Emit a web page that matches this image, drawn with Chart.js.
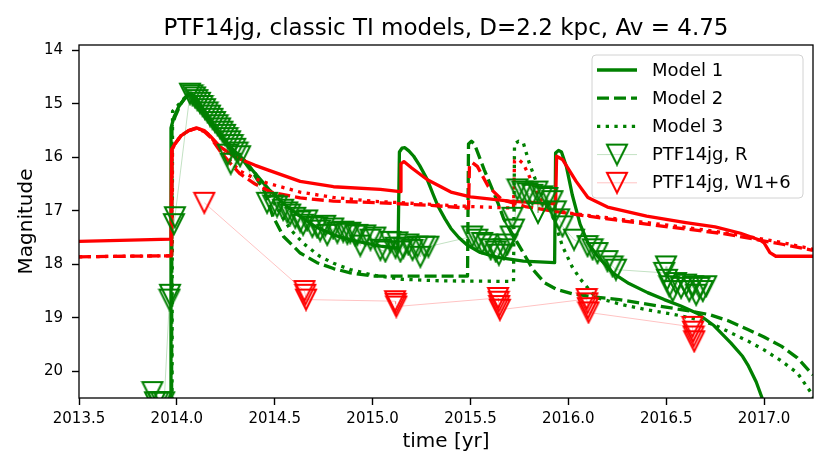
<!DOCTYPE html>
<html>
<head>
<meta charset="utf-8">
<title>PTF14jg classic TI models</title>
<script src="https://cdn.jsdelivr.net/npm/chart.js@4.4.1/dist/chart.umd.min.js"></script>
<style>
  html, body { margin: 0; padding: 0; background: #fff; }
</style>
</head>
<body>
<canvas id="myChart" width="830" height="475"></canvas>
<script>
// axis ticks
const xTicks = [2013.5, 2014.0, 2014.5, 2015.0, 2015.5, 2016.0, 2016.5, 2017.0];
const yTicks = [14, 15, 16, 17, 18, 19, 20];

const chartTitle = 'PTF14jg, classic TI models, D=2.2 kpc, Av = 4.75';
const legendLabels = ['Model 1', 'Model 2', 'Model 3', 'PTF14jg, R', 'PTF14jg, W1+6'];

// model 1, R band (green solid)
const m1Time = [2013.965, 2013.97, 2013.985, 2014.01, 2014.04, 2014.067, 2014.1, 2014.135, 2014.2, 2014.27, 2014.34,
  2014.4, 2014.47, 2014.54, 2014.62, 2014.71, 2014.8, 2014.88, 2014.96, 2015.04, 2015.13, 2015.137, 2015.15, 2015.165,
  2015.185, 2015.21, 2015.24, 2015.28, 2015.31, 2015.335, 2015.37, 2015.4, 2015.44, 2015.48, 2015.55, 2015.64, 2015.77,
  2015.93, 2015.935, 2015.95, 2015.965, 2015.99, 2016.02, 2016.06, 2016.1, 2016.15, 2016.23, 2016.31, 2016.405, 2016.49,
  2016.575, 2016.66, 2016.745, 2016.83, 2016.89, 2016.92, 2016.96, 2016.99, 2017.0];
const m1Mag = [20.7, 15.45, 15.25, 15.05, 14.9, 14.8, 14.9, 15.1, 15.48, 15.8, 16.04,
  16.3, 16.6, 16.85, 17.08, 17.3, 17.45, 17.54, 17.6, 17.66, 17.7, 15.9, 15.83, 15.82,
  15.88, 15.98, 16.15, 16.42, 16.7, 16.92, 17.15, 17.33, 17.5, 17.63, 17.78, 17.87, 17.94,
  17.97, 15.92, 15.87, 15.9, 16.17, 16.7, 17.25, 17.6, 17.85, 18.17, 18.36, 18.53, 18.66,
  18.78, 18.92, 19.15, 19.47, 19.72, 19.9, 20.2, 20.5, 20.7];

// model 2, R band (green dashed)
const m2Time = [2013.973, 2013.975, 2013.99, 2014.02, 2014.05, 2014.07, 2014.1, 2014.135, 2014.2, 2014.27, 2014.34,
  2014.4, 2014.45, 2014.49, 2014.545, 2014.63, 2014.716, 2014.8, 2014.886, 2015.0, 2015.485, 2015.49, 2015.505, 2015.52,
  2015.57, 2015.64, 2015.67, 2015.74, 2015.82, 2015.88, 2015.94, 2016.02, 2016.11, 2016.26, 2016.46, 2016.6, 2016.72,
  2016.82, 2016.917, 2017.0, 2017.088, 2017.17, 2017.25];
const m2Mag = [20.7, 15.42, 15.25, 15.0, 14.85, 14.8, 14.92, 15.1, 15.48, 15.8, 16.06,
  16.35, 16.65, 17.1, 17.48, 17.79, 17.97, 18.08, 18.16, 18.22, 18.22, 15.75, 15.7, 15.75,
  16.23, 16.85, 17.15, 17.6, 18.1, 18.35, 18.47, 18.55, 18.6, 18.66, 18.78, 18.86, 18.94,
  19.06, 19.22, 19.36, 19.53, 19.75, 20.07];

// model 3, R band (green dotted)
const m3Time = [2013.975, 2013.978, 2014.0, 2014.03, 2014.06, 2014.075, 2014.1, 2014.135, 2014.2, 2014.27, 2014.34,
  2014.4, 2014.45, 2014.52, 2014.58, 2014.65, 2014.73, 2014.8, 2014.886, 2015.0, 2015.15, 2015.35, 2015.72, 2015.725,
  2015.745, 2015.77, 2015.8, 2015.85, 2015.92, 2015.97, 2016.02, 2016.06, 2016.14, 2016.27, 2016.4, 2016.53, 2016.66,
  2016.75, 2016.83, 2016.92, 2017.0, 2017.085, 2017.17, 2017.24, 2017.26];
const m3Mag = [20.7, 15.14, 15.05, 14.92, 14.82, 14.8, 14.9, 15.1, 15.48, 15.8, 16.04,
  16.3, 16.55, 17.0, 17.35, 17.62, 17.85, 17.98, 18.1, 18.2, 18.28, 18.31, 18.32, 15.75,
  15.7, 15.73, 16.1, 16.6, 17.1, 17.66, 18.05, 18.27, 18.62, 18.75, 18.85, 18.93, 19.03,
  19.14, 19.28, 19.44, 19.6, 19.8, 20.03, 20.4, 20.55];

// model 1, W1+6 (red solid)
const w1Time = [2013.5, 2013.97, 2013.973, 2013.99, 2014.02, 2014.06, 2014.1, 2014.14, 2014.17, 2014.22, 2014.3,
  2014.4, 2014.46, 2014.63, 2014.8, 2015.04, 2015.14, 2015.145, 2015.16, 2015.2, 2015.28, 2015.4, 2015.5, 2015.7,
  2015.935, 2015.94, 2015.97, 2016.04, 2016.1, 2016.2, 2016.4, 2016.6, 2016.75, 2016.88, 2016.98, 2017.0, 2017.03,
  2017.06, 2017.25];
const w1Mag = [17.57, 17.53, 15.85, 15.75, 15.6, 15.5, 15.45, 15.5, 15.6, 15.8, 16.0,
  16.15, 16.23, 16.45, 16.55, 16.6, 16.64, 16.12, 16.08, 16.2, 16.42, 16.65, 16.74, 16.82,
  16.87, 15.98, 16.04, 16.45, 16.75, 16.93, 17.1, 17.22, 17.3, 17.42, 17.55, 17.6, 17.78,
  17.85, 17.85];

// model 2, W1+6 (red dashed)
const w2Time = [2013.5, 2013.973, 2013.976, 2013.99, 2014.02, 2014.06, 2014.1, 2014.14, 2014.17, 2014.22, 2014.27,
  2014.32, 2014.4, 2014.48, 2014.63, 2014.8, 2015.04, 2015.3, 2015.49, 2015.495, 2015.51, 2015.535, 2015.59, 2015.66,
  2015.78, 2016.0, 2016.2, 2016.4, 2016.6, 2016.8, 2016.95, 2017.1, 2017.25];
const w2Mag = [17.86, 17.84, 15.85, 15.75, 15.6, 15.5, 15.46, 15.52, 15.62, 15.88, 16.1,
  16.3, 16.5, 16.65, 16.76, 16.82, 16.85, 16.9, 16.95, 16.15, 16.1, 16.17, 16.54, 16.79,
  16.92, 17.05, 17.15, 17.25, 17.34, 17.43, 17.53, 17.63, 17.74];

// model 3, W1+6 (red dotted)
const w3Time = [2013.5, 2013.974, 2013.977, 2013.99, 2014.02, 2014.06, 2014.1, 2014.14, 2014.17, 2014.22, 2014.27,
  2014.32, 2014.4, 2014.46, 2014.63, 2014.8, 2015.0, 2015.3, 2015.5, 2015.72, 2015.725, 2015.745, 2015.77, 2015.8,
  2015.85, 2015.9, 2016.0, 2016.2, 2016.4, 2016.6, 2016.8, 2016.95, 2017.1, 2017.25];
const w3Mag = [17.86, 17.84, 15.85, 15.75, 15.6, 15.5, 15.46, 15.5, 15.6, 15.85, 16.05,
  16.25, 16.4, 16.48, 16.65, 16.75, 16.82, 16.88, 16.92, 16.95, 16.06, 16.04, 16.12, 16.35,
  16.75, 16.95, 17.04, 17.13, 17.22, 17.31, 17.41, 17.5, 17.6, 17.72];

// PTF14jg, R (observed)
const rTime = [2013.875, 2013.888, 2013.905, 2013.92, 2013.935, 2013.962, 2013.965, 2013.985, 2013.99,
  2014.067, 2014.08, 2014.093, 2014.105, 2014.118, 2014.131, 2014.144, 2014.157, 2014.169, 2014.182, 2014.195,
  2014.208, 2014.221, 2014.233, 2014.246, 2014.259, 2014.26, 2014.272, 2014.275, 2014.285, 2014.298, 2014.31, 2014.323,
  2014.461, 2014.492, 2014.512, 2014.543, 2014.564, 2014.579, 2014.605, 2014.63, 2014.645, 2014.666, 2014.692,
  2014.717, 2014.732, 2014.758, 2014.768, 2014.799, 2014.82, 2014.85, 2014.871, 2014.886, 2014.912, 2014.922,
  2014.937, 2014.963, 2014.989, 2015.014, 2015.04, 2015.065, 2015.091, 2015.117, 2015.127, 2015.142, 2015.157,
  2015.183, 2015.204, 2015.229, 2015.244, 2015.265, 2015.285,
  2015.509, 2015.535, 2015.56, 2015.586, 2015.603, 2015.629, 2015.645, 2015.671, 2015.688, 2015.705, 2015.714,
  2015.722, 2015.74, 2015.765, 2015.791, 2015.816, 2015.842, 2015.845, 2015.868, 2015.893, 2015.919, 2015.936,
  2015.953, 2015.97, 2016.029, 2016.098, 2016.124, 2016.149, 2016.2, 2016.226, 2016.243,
  2016.49, 2016.499, 2016.504, 2016.516, 2016.533, 2016.55, 2016.576, 2016.601, 2016.618, 2016.636, 2016.653,
  2016.67, 2016.687, 2016.704];
const rMag = [20.39, 20.58, 20.58, 20.58, 20.58, 18.66, 18.57, 17.25, 17.12,
  14.81, 14.84, 14.88, 14.93, 14.98, 15.04, 15.1, 15.16, 15.22, 15.28, 15.34,
  15.4, 15.46, 15.52, 15.58, 15.64, 15.95, 15.7, 16.12, 15.77, 15.84, 15.91, 15.98,
  16.85, 16.9, 16.92, 16.98, 17.03, 17.07, 17.13, 17.2, 17.26, 17.18, 17.3,
  17.31, 17.37, 17.28, 17.45, 17.33, 17.41, 17.39, 17.43, 17.41, 17.46, 17.45,
  17.65, 17.46, 17.54, 17.5, 17.73, 17.76, 17.58, 17.69, 17.59, 17.76, 17.69,
  17.63, 17.73, 17.67, 17.86, 17.67, 17.67,
  17.48, 17.54, 17.6, 17.63, 17.72, 17.76, 17.82, 17.72, 17.63, 17.48, 17.13,
  17.35, 16.6, 16.64, 16.67, 16.7, 16.64, 17.04, 16.73, 16.76, 16.82, 17.01,
  17.16, 17.29, 17.54, 17.66, 17.72, 17.79, 17.94, 18.04, 18.1,
  18.16, 18.04, 18.29, 18.41, 18.5, 18.35, 18.44, 18.38, 18.5, 18.41, 18.57,
  18.44, 18.5, 18.41];

// PTF14jg, W1+6 (observed)
const wTime = [2014.14, 2014.652, 2014.656, 2014.66, 2015.115, 2015.118, 2015.121, 2015.641, 2015.644, 2015.647,
  2015.65, 2016.094, 2016.097, 2016.1, 2016.103, 2016.634, 2016.637, 2016.64, 2016.643];
const wMag = [16.85, 18.5, 18.57, 18.66, 18.69, 18.74, 18.79, 18.63, 18.7, 18.78,
  18.85, 18.65, 18.73, 18.82, 18.9, 19.17, 19.26, 19.35, 19.44];

const FONT = 'DejaVu Sans';
const GREEN = '#008000';
const RED = '#ff0000';

function pts(ts, ms) {
  return ts.map((t, i) => ({x: t, y: ms[i]}));
}

// open down-pointing triangle, like matplotlib 'v'
function triMarker(color) {
  const c = document.createElement('canvas');
  c.width = 24;
  c.height = 24;
  const g = c.getContext('2d');
  g.strokeStyle = color;
  g.lineWidth = 2;
  g.lineJoin = 'miter';
  g.beginPath();
  g.moveTo(2, 2);
  g.lineTo(22, 2);
  g.lineTo(12, 22);
  g.closePath();
  g.stroke();
  return c;
}
const triGreen = triMarker(GREEN);
const triRed = triMarker(RED);

const DASHED = [12, 5];
const DOTTED = [3.3, 5.4];

function modelSet(ts, ms, color, dash) {
  return {
    data: pts(ts, ms),
    showLine: true,
    borderColor: color,
    backgroundColor: color,
    borderWidth: 3.3,
    borderDash: dash,
    borderCapStyle: 'butt',
    borderJoinStyle: 'round',
    pointRadius: 0,
    tension: 0,
    fill: false,
    clip: 0
  };
}

function obsSet(ts, ms, lineColor, marker) {
  return {
    data: pts(ts, ms),
    showLine: true,
    borderColor: lineColor,
    borderWidth: 0.8,
    pointStyle: marker,
    pointRadius: 10,
    pointHoverRadius: 10,
    tension: 0,
    fill: false,
    clip: 0
  };
}

// first dataset is drawn on top
const datasets = [
  obsSet(wTime, wMag, 'rgba(255,0,0,0.3)', triRed),
  obsSet(rTime, rMag, 'rgba(0,128,0,0.3)', triGreen),
  modelSet(w3Time, w3Mag, RED, DOTTED),
  modelSet(w2Time, w2Mag, RED, DASHED),
  modelSet(w1Time, w1Mag, RED, []),
  modelSet(m3Time, m3Mag, GREEN, DOTTED),
  modelSet(m2Time, m2Mag, GREEN, DASHED),
  modelSet(m1Time, m1Mag, GREEN, [])
];
// legend rows -> dataset index
const legendRefs = [7, 6, 5, 1, 0];

const titlePlugin = {
  id: 'topTitle',
  afterDraw(chart) {
    const ctx = chart.ctx;
    const a = chart.chartArea;
    ctx.save();
    ctx.font = '23px "' + FONT + '"';
    ctx.fillStyle = '#000';
    ctx.textAlign = 'center';
    ctx.textBaseline = 'alphabetic';
    ctx.fillText(chartTitle, (a.left + a.right) / 2, 35);
    ctx.restore();
  }
};

const framePlugin = {
  id: 'frame',
  afterDatasetsDraw(chart) {
    const ctx = chart.ctx;
    const a = chart.chartArea;
    ctx.save();
    ctx.strokeStyle = '#000';
    ctx.lineWidth = 1.3;
    ctx.strokeRect(a.left, a.top, a.right - a.left, a.bottom - a.top);
    ctx.restore();
  }
};

const legendPlugin = {
  id: 'boxLegend',
  afterDraw(chart) {
    const ctx = chart.ctx;
    const a = chart.chartArea;
    const bx = a.right - 221, by = a.top + 10, bw = 211, bh = 143;
    ctx.save();
    ctx.beginPath();
    ctx.roundRect(bx, by, bw, bh, 4);
    ctx.fillStyle = 'rgba(255,255,255,0.8)';
    ctx.fill();
    ctx.strokeStyle = '#d2d2d2';
    ctx.lineWidth = 1;
    ctx.stroke();
    ctx.font = '18px "' + FONT + '"';
    ctx.textBaseline = 'middle';
    ctx.textAlign = 'left';
    legendLabels.forEach((label, i) => {
      const ds = chart.data.datasets[legendRefs[i]];
      const y = by + 15 + i * 28.2;
      const x1 = bx + 5, x2 = bx + 45;
      ctx.save();
      ctx.strokeStyle = ds.borderColor;
      ctx.lineWidth = ds.borderWidth;
      ctx.setLineDash(ds.borderDash || []);
      ctx.lineCap = 'butt';
      ctx.beginPath();
      ctx.moveTo(x1, y);
      ctx.lineTo(x2, y);
      ctx.stroke();
      ctx.restore();
      if (ds.pointStyle instanceof HTMLCanvasElement) {
        const m = ds.pointStyle;
        ctx.drawImage(m, (x1 + x2) / 2 - m.width / 2, y - m.height / 2);
      }
      ctx.fillStyle = '#000';
      ctx.fillText(label, bx + 60, y + 1);
    });
    ctx.restore();
  }
};

new Chart(document.getElementById('myChart'), {
  type: 'scatter',
  data: { datasets: datasets },
  options: {
    responsive: false,
    animation: false,
    events: [],
    layout: { padding: { top: 45, right: 17, left: 0, bottom: 0 } },
    plugins: {
      legend: { display: false },
      tooltip: { enabled: false },
      title: { display: false }
    },
    scales: {
      x: {
        type: 'linear',
        min: 2013.5,
        max: 2017.25,
        afterBuildTicks: s => { s.ticks = xTicks.map(v => ({value: v})); },
        afterFit: s => { s.height = 77; },
        border: { display: false },
        grid: { drawOnChartArea: false, drawTicks: true, tickLength: 7, tickColor: '#000', tickWidth: 1.4 },
        ticks: {
          color: '#000',
          font: { family: FONT, size: 15 },
          padding: 5,
          maxRotation: 0,
          autoSkip: false,
          callback: v => Number(v).toFixed(1)
        },
        title: {
          display: true,
          text: 'time [yr]',
          color: '#000',
          font: { family: FONT, size: 20 },
          padding: { top: 0, bottom: 21 }
        }
      },
      y: {
        type: 'linear',
        reverse: true,
        min: 13.9,
        max: 20.5,
        afterBuildTicks: s => { s.ticks = yTicks.map(v => ({value: v})); },
        afterFit: s => { s.width = 79; },
        border: { display: false },
        grid: { drawOnChartArea: false, drawTicks: true, tickLength: 7, tickColor: '#000', tickWidth: 1.4 },
        ticks: {
          color: '#000',
          font: { family: FONT, size: 15 },
          padding: 9,
          autoSkip: false,
          callback: v => String(v)
        },
        title: {
          display: true,
          text: 'Magnitude',
          color: '#000',
          font: { family: FONT, size: 20 },
          padding: { top: 15, bottom: 0 }
        }
      }
    }
  },
  plugins: [framePlugin, legendPlugin, titlePlugin]
});
</script>
</body>
</html>
